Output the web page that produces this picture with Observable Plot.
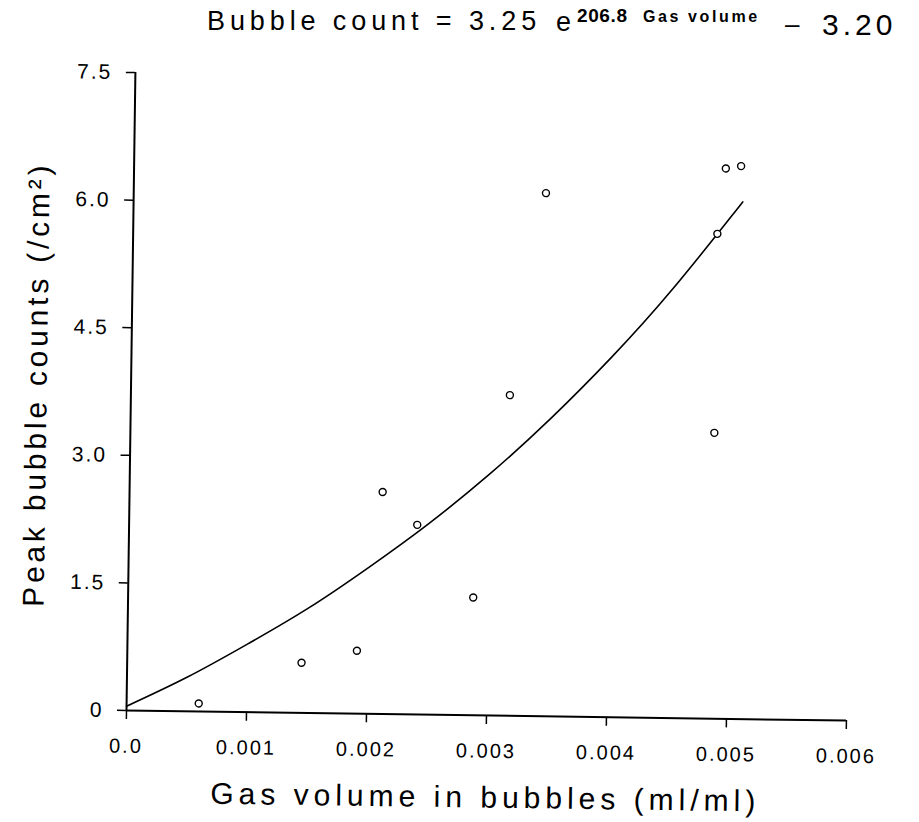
<!DOCTYPE html>
<html>
<head>
<meta charset="utf-8">
<script src="https://cdn.jsdelivr.net/npm/d3@7"></script>
<script src="https://cdn.jsdelivr.net/npm/@observablehq/plot@0.6"></script>
<style>
  body { margin: 0; background: #fff; }
  #wrap { position: relative; width: 919px; height: 822px; overflow: hidden; font-family: "Liberation Sans", Arial, sans-serif; color: #000; }
  #title { position: absolute; left: 0; top: 0; }
  #title text { font-family: "Liberation Sans", Arial, sans-serif; fill: #000; }
  #chart { position: absolute; left: 0; top: 0; }
  #chart svg { transform: rotate(0.8deg); transform-origin: 126px 710px; }
</style>
</head>
<body>
<div id="wrap">
  <div id="chart"></div>
  <svg id="title" width="919" height="50">
    <text x="207" y="30" font-size="27" letter-spacing="4.9">Bubble count = 3.25</text>
    <text x="556" y="31" font-size="27">e</text>
    <text x="577" y="22" font-size="19" font-weight="bold" letter-spacing="0.6">206.8</text>
    <text x="643" y="22" font-size="16" font-weight="bold" letter-spacing="2.6">Gas volume</text>
    <text x="785" y="33" font-size="26">–</text>
    <text x="822" y="35" font-size="30" letter-spacing="4">3.20</text>
  </svg>
</div>
<script>
// Observed data points
const gasVolume   = [0.000601, 0.001453, 0.001913, 0.002109, 0.002401, 0.002876, 0.003158, 0.003435, 0.004866, 0.004868, 0.004931, 0.005058];
const bubbleCount = [0.095,    0.59,     0.74,     2.61,     2.23,     1.385,    3.77,     6.15,     3.36,     5.70,     6.47,     6.50];

// Fitted curve
const fitVolume = [0, 0.0005, 0.001, 0.0015, 0.002, 0.0025, 0.003, 0.0035, 0.004, 0.0045, 0.005, 0.00506];
const fitCount  = [0.05, 0.40, 0.80, 1.23, 1.72, 2.25, 2.84, 3.50, 4.23, 5.04, 5.94, 6.05];

// Ticks
const xTicks = [0, 0.001, 0.002, 0.003, 0.004, 0.005, 0.006];
const xTickLabels = ["0.0", "0.001", "0.002", "0.003", "0.004", "0.005", "0.006"];
const yTicks = [0, 1.5, 3.0, 4.5, 6.0, 7.5];
const yTickLabels = ["0", "1.5", "3.0", "4.5", "6.0", "7.5"];

const xTitle = "Gas volume in bubbles (ml/ml)";
const yTitle = "Peak bubble counts (/cm²)";

const points = gasVolume.map((v, i) => ({x: v, y: bubbleCount[i]}));
const fit = fitVolume.map((v, i) => ({x: v, y: fitCount[i]}));

const chart = Plot.plot({
  width: 919,
  height: 822,
  marginTop: 72,
  marginBottom: 112,
  marginLeft: 126,
  marginRight: 73,
  style: {fontFamily: "'Liberation Sans', Arial, sans-serif", background: "transparent", color: "#000", overflow: "visible"},
  x: {domain: [0, 0.006]},
  y: {domain: [0, 7.5]},
  marks: [
    Plot.ruleX([0], {stroke: "#000", strokeWidth: 2}),
    Plot.ruleY([0], {stroke: "#000", strokeWidth: 2}),
    Plot.axisX(xTicks, {tickSize: 9, tickPadding: 19, tickFormat: d => xTickLabels[xTicks.indexOf(d)], fontSize: 20, label: null, stroke: "#000", strokeWidth: 1.5}),
    Plot.axisY(yTicks, {tickSize: 9, tickPadding: 14, tickFormat: d => yTickLabels[yTicks.indexOf(d)], fontSize: 21, label: null, stroke: "#000", strokeWidth: 1.5}),
    Plot.line(fit, {x: "x", y: "y", curve: "natural", stroke: "#000", strokeWidth: 1.6}),
    Plot.dot(points, {x: "x", y: "y", r: 3.5, stroke: "#000", fill: "#fff", strokeWidth: 1.4}),
    Plot.text([yTitle], {frameAnchor: "left", textAnchor: "middle", rotate: -90, dx: -94, dy: -6, fontSize: 30, fill: "#000"}),
    Plot.text([xTitle], {frameAnchor: "bottom", dy: 92, fontSize: 30, fill: "#000"})
  ]
});

d3.select(chart).selectAll("text").each(function() {
  const t = d3.select(this).text();
  if (t === xTitle) d3.select(this).style("letter-spacing", "5px");
  else if (t === yTitle) d3.select(this).style("letter-spacing", "3.8px");
  else d3.select(this).style("letter-spacing", "2px");
});

document.getElementById("chart").appendChild(chart);
</script>
</body>
</html>
